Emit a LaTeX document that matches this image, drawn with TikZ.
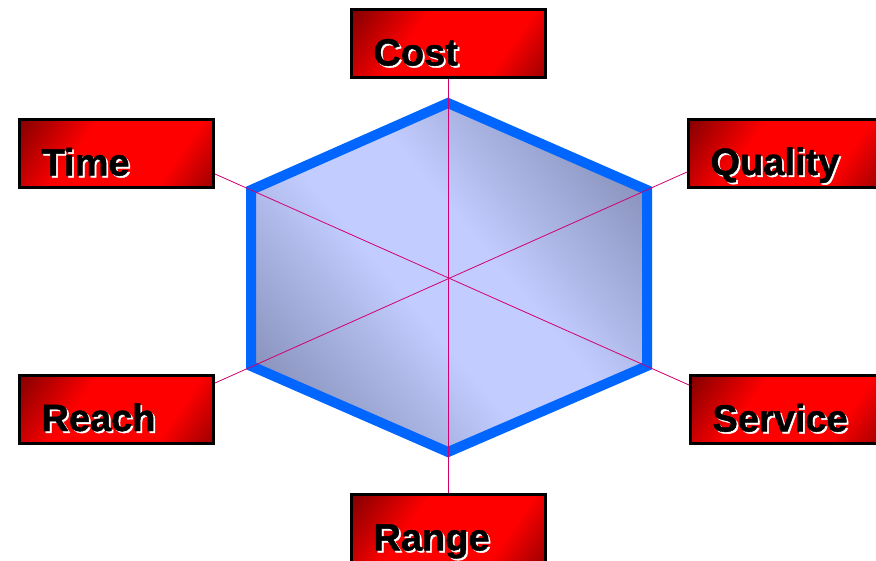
\documentclass[tikz,border=0pt]{standalone}
\usepackage{fontspec}
\setmainfont{Liberation Sans}
\newfontfamily\boxfont[FakeBold=1.2]{Liberation Sans Bold}
\usepackage{tikz}
\usetikzlibrary{calc}
\definecolor{hexblue}{RGB}{0,102,255}
\definecolor{hexlite}{RGB}{194,204,255}
\definecolor{hexdark}{RGB}{104,114,150}
\definecolor{boxdark}{RGB}{125,0,0}
\definecolor{spoke}{RGB}{210,0,110}
\pgfdeclarehorizontalshading{redbar}{100bp}{color(0bp)=(boxdark); color(14bp)=(boxdark);
  color(38bp)=(red); color(68bp)=(red); color(90bp)=(boxdark); color(100bp)=(boxdark)}
\pgfdeclarehorizontalshading{hexshade}{100bp}{color(0bp)=(hexdark); color(10bp)=(hexdark);
  color(44bp)=(hexlite); color(56bp)=(hexlite); color(90bp)=(hexdark); color(100bp)=(hexdark)}
\newcommand{\shd}[1]{\makebox[0pt][l]{\kern1.8pt\raisebox{-1.8pt}{\color{white}#1}}#1}

\begin{document}
\begin{tikzpicture}[x=1pt,y=-1pt,
  bx/.style={draw=black,line width=3pt,shading=redbar,shading angle=-35,
    text width=150pt,inner xsep=22pt,inner ysep=0pt,text height=56pt,text depth=12pt,
    align=left,font=\boxfont\fontsize{38}{38}\selectfont},
  hx/.style={draw=hexblue,line width=10pt,line join=miter,shading=hexshade,shading angle=40},
  sp/.style={draw=spoke,line width=0.8pt}]
\useasboundingbox (0,0) rectangle (876,560);
\clip (0,0) rectangle (876,560);
% hexagon
\draw[hx] (448,103) coordinate (v1) -- (647,190) coordinate (v2) -- (647,366) coordinate (v3)
  -- (448,452) coordinate (v4) -- (251,366) coordinate (v5) -- (251,190) coordinate (v6) -- cycle;
\coordinate (hub) at (449,278);
% labels
\node[bx] (cost) at (448.5,43.5) {\shd{Cost}};
\node[bx] (time) at (116.5,153.5) {\shd{Time}};
\node[bx] (quality) at (785.5,153) {\shd{Quality}};
\node[bx] (reach) at (116.5,409) {\shd{Reach}};
\node[bx] (service) at (787.5,409.5) {\shd{Service}};
\node[bx] (range) at (448.5,528.5) {\shd{Range}};
% spokes
\draw[sp] (cost) -- (range);
\draw[sp] ([yshift=-20.5pt]time.east) -- ([yshift=24.5pt]service.west);
\draw[sp] ([yshift=26pt]reach.east) -- ([yshift=-19pt]quality.west);
\end{tikzpicture}
\end{document}
